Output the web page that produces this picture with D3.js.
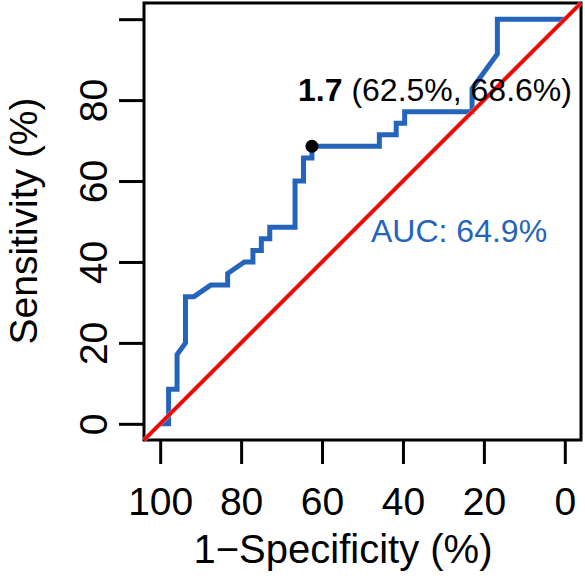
<!DOCTYPE html>
<html>
<head>
<meta charset="utf-8">
<script src="https://cdn.jsdelivr.net/npm/d3@7"></script>
<style>
  html, body { margin: 0; padding: 0; background: #fff; }
  svg { display: block; }
  text { font-family: "Liberation Sans", Arial, Helvetica, sans-serif; }
</style>
</head>
<body>
<svg id="chart" width="585" height="579"></svg>
<script>
// ROC curve points (specificity %, sensitivity %)
const specificity = [100, 97.92, 97.92, 95.83, 95.83, 93.75, 93.75, 91.67, 87.5, 83.33, 83.33, 79.17, 77.08, 77.08, 75, 75, 72.92, 72.92, 66.67, 66.67, 64.58, 64.58, 62.5, 62.5, 45.83, 45.83, 41.67, 41.67, 39.58, 39.58, 22.92, 22.92, 16.67, 16.67, 0];
const sensitivity = [0, 0, 8.57, 8.57, 17.14, 20, 31.43, 31.43, 34.29, 34.29, 37.14, 40, 40, 42.86, 42.86, 45.71, 45.71, 48.57, 48.57, 60, 60, 65.71, 65.71, 68.57, 68.57, 71.43, 71.43, 74.29, 74.29, 77.14, 77.14, 82.86, 91.43, 100, 100];

const bestThreshold = "1.7";
const bestSpec = 62.5;
const bestSens = 68.6;
const aucLabel = "AUC: 64.9%";

const xTicks = [100, 80, 60, 40, 20, 0];
const xTickLabels = ["100", "80", "60", "40", "20", "0"];
const yTicks = [0, 20, 40, 60, 80, 100];
const yTickLabels = ["0", "20", "40", "60", "80", ""];

const xTitle = "1\u2212Specificity (%)";
const yTitle = "Sensitivity (%)";

const blue = "#2464bb";
const svg = d3.select("#chart");

const x = d3.scaleLinear().domain([104, -4]).range([144, 581]);
const y = d3.scaleLinear().domain([-4, 104]).range([440, 3]);

// Axes
const xAxis = d3.axisBottom(x).tickValues(xTicks)
  .tickFormat((d, i) => xTickLabels[i]).tickSize(24).tickPadding(0);
const gx = svg.append("g").attr("transform", "translate(0,440)").call(xAxis);
gx.select(".domain").remove();
gx.selectAll(".tick line").attr("stroke", "#000").attr("stroke-width", 3);
gx.selectAll(".tick text").attr("y", 75).attr("dy", 0)
  .attr("font-size", 39).attr("fill", "#000")
  .style("font-family", "'Liberation Sans', Arial, sans-serif");

const yAxis = d3.axisLeft(y).tickValues(yTicks)
  .tickFormat((d, i) => yTickLabels[i]).tickSize(25).tickPadding(0);
const gy = svg.append("g").attr("transform", "translate(144,0)").call(yAxis);
gy.select(".domain").remove();
gy.selectAll(".tick line").attr("stroke", "#000").attr("stroke-width", 3);
gy.selectAll(".tick text")
  .attr("x", 0).attr("dy", 0)
  .attr("transform", "translate(-37,0) rotate(-90)")
  .attr("text-anchor", "middle")
  .attr("font-size", 39).attr("fill", "#000")
  .style("font-family", "'Liberation Sans', Arial, sans-serif");

// Box
svg.append("rect")
  .attr("x", x(104)).attr("y", y(104))
  .attr("width", x(-4) - x(104)).attr("height", y(-4) - y(104))
  .attr("fill", "none").attr("stroke", "#000").attr("stroke-width", 3);

// Titles
svg.append("text").attr("x", 343).attr("y", 563)
  .attr("text-anchor", "middle").attr("font-size", 40).attr("fill", "#000")
  .text(xTitle);
svg.append("text")
  .attr("transform", "translate(37,221) rotate(-90)")
  .attr("text-anchor", "middle").attr("font-size", 39).attr("fill", "#000")
  .text(yTitle);

// ROC curve
const pts = specificity.map((s, i) => [s, sensitivity[i]]);
const line = d3.line().x(d => x(d[0])).y(d => y(d[1]));
svg.append("path").datum(pts).attr("d", line)
  .attr("fill", "none").attr("stroke", blue).attr("stroke-width", 5)
  .attr("stroke-linejoin", "miter").attr("stroke-linecap", "butt");

// Identity line (grey underlay + red)
const diag = [[104, -4], [-4, 104]];
svg.append("path").datum(diag).attr("d", line)
  .attr("stroke", "#aaaaaa").attr("stroke-width", 4.5).attr("fill", "none");
svg.append("path").datum(diag).attr("d", line)
  .attr("stroke", "#ff0000").attr("stroke-width", 3.5).attr("fill", "none");

// Best threshold point
svg.append("circle").attr("cx", x(bestSpec)).attr("cy", y(bestSens))
  .attr("r", 6.5).attr("fill", "#000");

// Annotation
const ann = svg.append("text").attr("x", 298).attr("y", 101)
  .attr("font-size", 32).attr("fill", "#000");
ann.append("tspan").attr("font-weight", "bold").text(bestThreshold);
ann.append("tspan").text(" (" + bestSpec.toFixed(1) + "%, " + bestSens.toFixed(1) + "%)");

svg.append("text").attr("x", 371).attr("y", 242)
  .attr("font-size", 32).attr("fill", blue).text(aucLabel);
</script>
</body>
</html>
